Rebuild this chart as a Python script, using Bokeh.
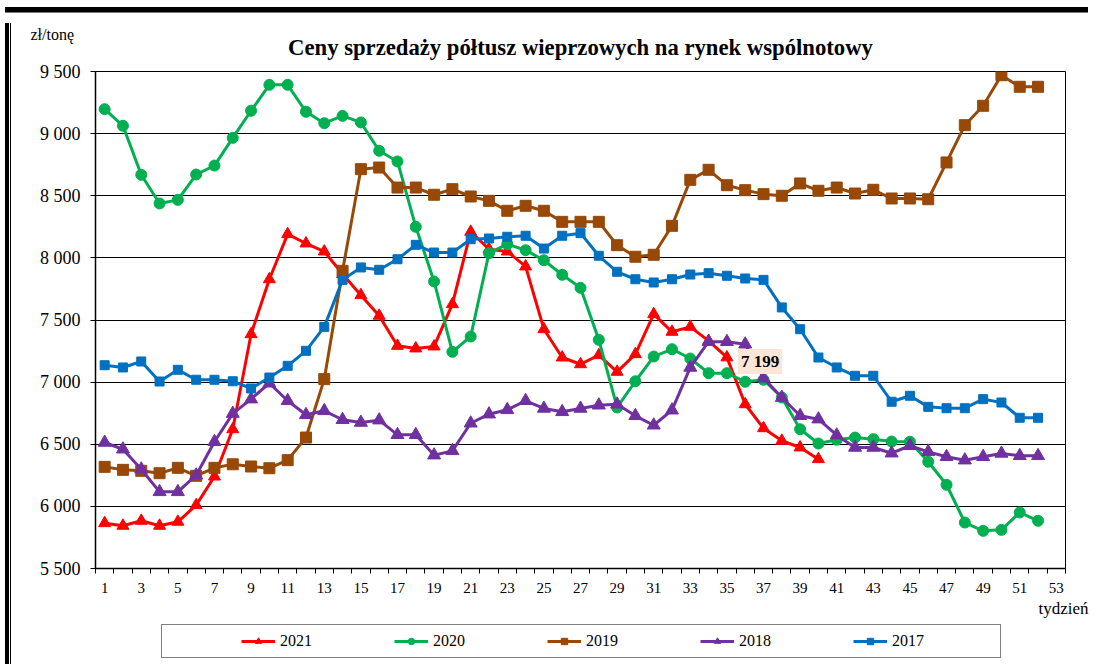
from bokeh.plotting import figure
from bokeh.models import (Range1d, FixedTicker, Legend, LegendItem, Title, Label, Div)
from bokeh.layouts import column, row
from bokeh.embed import file_html
from bokeh.resources import INLINE

weeks = list(range(1, 53))

y2021 = [5865, 5844, 5884, 5844, 5876, 6010, 6240, 6621, 7386, 7828,
         8191, 8116, 8051, 7870, 7700, 7534, 7292, 7271, 7287, 7627,
         8210, 8070, 8051, 7931, 7426, 7198, 7144, 7217, 7083, 7225,
         7547, 7405, 7445, 7332, 7199, 6822, 6629, 6528, 6474, 6380]
y2020 = [9197, 9063, 8669, 8438, 8467, 8671, 8743, 8966, 9184, 9393,
         9393, 9176, 9084, 9143, 9090, 8862, 8776, 8250, 7810, 7244,
         7367, 8038, 8110, 8062, 7981, 7864, 7759, 7341, 6796, 7007,
         7206, 7265, 7190, 7072, 7072, 7003, 7019, 6876, 6621, 6506,
         6536, 6554, 6541, 6522, 6520, 6359, 6174, 5870, 5803, 5811, 5951, 5884]
y2019 = [6318, 6294, 6286, 6267, 6310, 6246, 6310, 6339, 6321, 6307,
         6372, 6554, 7024, 7896, 8714, 8727, 8566, 8566, 8508, 8553,
         8494, 8459, 8379, 8419, 8379, 8290, 8290, 8290, 8102, 8009,
         8025, 8258, 8628, 8709, 8585, 8545, 8513, 8500, 8599, 8540,
         8566, 8518, 8548, 8478, 8478, 8472, 8768, 9068, 9224, 9470, 9377, 9377]
y2018 = [6514, 6460, 6299, 6117, 6117, 6251, 6520, 6747, 6863, 6991,
         6850, 6737, 6769, 6697, 6675, 6694, 6576, 6576, 6412, 6447,
         6669, 6742, 6777, 6850, 6788, 6761, 6788, 6814, 6822, 6729,
         6653, 6774, 7118, 7325, 7325, 7305, 7032, 6876, 6729, 6702,
         6573, 6474, 6474, 6428, 6488, 6439, 6399, 6372, 6399, 6426, 6407, 6407]
y2017 = [7136, 7118, 7166, 7005, 7099, 7019, 7019, 7007, 6949, 7037,
         7131, 7252, 7445, 7823, 7923, 7904, 7989, 8105, 8043, 8043,
         8150, 8156, 8170, 8178, 8075, 8178, 8199, 8017, 7888, 7828,
         7802, 7828, 7866, 7877, 7856, 7834, 7823, 7601, 7426, 7198,
         7118, 7051, 7051, 6842, 6890, 6801, 6790, 6790, 6863, 6836, 6713, 6713]

y_ticks = [5500, 6000, 6500, 7000, 7500, 8000, 8500, 9000, 9500]
x_ticks = list(range(1, 54, 2))
series_names = ["2021", "2020", "2019", "2018", "2017"]
annot_week = 35
annot_value = 7199

FONT = "Liberation Serif"

PW, PH = 1077, 606
LH = 35
p = figure(width=PW, height=PH, output_backend="svg", toolbar_location=None,
           x_range=Range1d(0.5, 53.5), y_range=Range1d(5500, 9500),
           min_border_left=79, min_border_top=53, min_border_right=28,
           min_border_bottom=56)

p.outline_line_color = "black"
p.outline_line_width = 1
p.xgrid.visible = False
p.ygrid.grid_line_color = "black"
p.ygrid.grid_line_width = 1
p.ygrid.ticker = FixedTicker(ticks=y_ticks)

p.yaxis.ticker = FixedTicker(ticks=y_ticks)
p.yaxis.major_label_overrides = {v: f"{v:,}".replace(",", " ") for v in y_ticks}
p.yaxis.major_label_text_font = FONT
p.yaxis.major_label_text_font_size = "18px"
p.yaxis.major_label_text_color = "black"
p.yaxis.major_tick_out = 5
p.yaxis.major_tick_in = 0
p.yaxis.minor_tick_out = 0
p.yaxis.minor_tick_in = 0
p.yaxis.major_label_standoff = 10
p.yaxis.axis_line_color = "black"
p.yaxis.axis_line_width = 1.5

half = [w - 0.5 for w in range(1, 55)]
p.xaxis.ticker = FixedTicker(ticks=x_ticks, minor_ticks=half)
p.xaxis.major_label_text_font = FONT
p.xaxis.major_label_text_font_size = "15px"
p.xaxis.major_label_text_color = "black"
p.xaxis.major_tick_out = 0
p.xaxis.major_tick_in = 0
p.xaxis.minor_tick_out = 5
p.xaxis.minor_tick_in = 0
p.xaxis.major_label_standoff = 9
p.xaxis.axis_line_color = "black"
p.xaxis.axis_line_width = 1.5

p.add_layout(Title(text="Ceny sprzedaży półtusz wieprzowych na rynek wspólnotowy",
                   align="center", text_font=FONT, text_font_size="22.7px",
                   text_font_style="bold", text_color="black", standoff=23), "above")

p.add_layout(Title(text="zł/tonę", align="left", offset=-65, text_font=FONT,
                   text_font_size="16px", text_font_style="normal",
                   text_color="black", standoff=-43), "above")

p.add_layout(Title(text="tydzień", align="right", offset=-23, text_font=FONT,
                   text_font_size="17px", text_font_style="normal",
                   text_color="black", standoff=2), "below")

styles = [
    ("#FF0000", "triangle", 12),
    ("#00B050", "circle", 11),
    ("#984807", "square", 11),
    ("#7030A0", "triangle", 13),
    ("#0070C0", "square", 9),
]
data = [y2021, y2020, y2019, y2018, y2017]

for name, ys, (col, mk, sz) in zip(series_names, data, styles):
    xs = weeks[:len(ys)]
    p.line(xs, ys, line_color=col, line_width=3)
    p.scatter(xs, ys, marker=mk, size=sz, fill_color=col, line_color=col)

lab = Label(x=annot_week, y=annot_value, x_offset=11, y_offset=-4, text="7 199",
            text_font=FONT, text_font_style="bold", text_font_size="17px",
            text_baseline="middle", text_align="left", text_color="black",
            background_fill_color="#FBE5D6", padding=3)
p.add_layout(lab)

# legend strip: a second figure holding only the legend (series kept out of view)
p2 = figure(width=PW, height=LH, output_backend="svg", toolbar_location=None,
            x_range=Range1d(-200, -199), y_range=Range1d(-200, -199),
            min_border_left=0, min_border_right=0, min_border_top=0,
            min_border_bottom=0)
p2.axis.visible = False
p2.grid.visible = False
p2.outline_line_color = None

items = []
for name, ys, (col, mk, sz) in zip(series_names, data, styles):
    xs = weeks[:len(ys)]
    lr = p2.line(xs, ys, line_color=col, line_width=3)
    sr = p2.scatter(xs, ys, marker=mk, size=sz, fill_color=col, line_color=col)
    items.append(LegendItem(label=name, renderers=[lr, sr]))

legend = Legend(items=items, orientation="horizontal", location=(66, 1),
                label_text_font=FONT, label_text_font_size="16px",
                label_text_color="black",
                glyph_width=34, glyph_height=16, label_standoff=5,
                label_width=101, spacing=13, padding=7, margin=0,
                title=" ", title_location="left", title_text_font_size="1px",
                title_standoff=71,
                border_line_color="black", border_line_width=1.5)
p2.add_layout(legend)

top_bar = Div(width=6 + PW, height=8, styles={
    "background": "linear-gradient(to bottom, white 0px, white 2px, black 2px, black 7px, #777 7px, #777 8px)"})
left_bar = Div(width=6, height=PH + LH, styles={
    "background": "linear-gradient(to right, black 0px, black 4px, white 4px, white 5px, black 5px, black 6px)"})

layout = column(top_bar, row(left_bar, column(p, p2, spacing=0), spacing=0), spacing=0)

open("out.html", "w").write(file_html(layout, INLINE))
